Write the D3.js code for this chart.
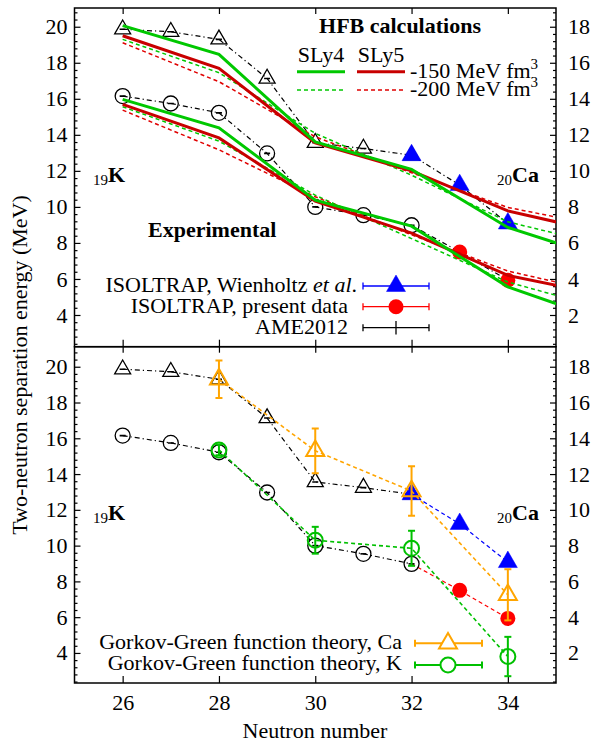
<!DOCTYPE html>
<html>
<head>
<meta charset="utf-8">
<script src="https://cdn.jsdelivr.net/npm/d3@7"></script>
<style>
  body { margin: 0; background: #fff; }
  svg text { font-family: "Liberation Serif", "Times New Roman", serif; font-size: 22px; fill: #000; }
</style>
</head>
<body>
<svg id="chart" width="592" height="747"></svg>
<script>
// ---- data (MeV) ----
const ameN = [26, 27, 28, 29, 30, 31, 32];
const caAME = [19.86, 19.72, 19.3, 17.13, 13.56, 13.24, 12.87];
const kAME = [16.15, 15.74, 15.22, 12.97, 10.0, 9.54, 8.98];

const wienN = [32, 33, 34];
const caWien = [12.87, 11.21, 9.08];

const presentN = [33, 34];
const kPresent = [7.5, 5.93];

const hfbN = [26, 28, 30, 32, 34, 36];
const caSly4m150 = [20.06, 18.47, 13.61, 12.08, 8.86, 7.14];
const caSly5m150 = [19.5, 17.69, 13.55, 12.0, 9.78, 8.56];
const caSly4m200 = [19.3, 17.45, 14.08, 11.76, 9.17, 7.87];
const caSly5m200 = [19.11, 16.95, 13.89, 11.89, 9.97, 8.91];
const kSly4m150 = [15.97, 14.39, 10.37, 8.93, 5.56, 3.7];
const kSly5m150 = [15.69, 13.83, 10.32, 8.54, 6.2, 5.1];
const kSly4m200 = [15.56, 13.65, 10.65, 8.24, 5.83, 4.35];
const kSly5m200 = [15.37, 13.17, 10.56, 8.45, 6.44, 5.22];

const ggN = [28, 30, 32, 34];
const ggCa = [19.3, 15.3, 13.05, 7.25];
const ggCaErr = [1.05, 1.25, 1.38, 1.43];
const ggK = [15.35, 10.3, 9.85, 3.8];
const ggKErr = [0.3, 0.75, 0.98, 1.1];

const xTicks = [26, 28, 30, 32, 34];
const yTicks = [4, 6, 8, 10, 12, 14, 16, 18, 20];
const yTicksRight = [2, 4, 6, 8, 10, 12, 14, 16, 18];

// ---- layout ----
const LEFT = 74.5;
const RIGHT = 556;
const TOP = 8;
const MID = 346.7;
const BOTTOM = 683;

const GREEN = "#00c800";
const DARK_RED = "#c80000";
const RED_DASH = "#e00000";
const ORANGE = "#ffa500";
const GG_GREEN = "#00c000";

const svg = d3.select("#chart");

const x = d3.scaleLinear().domain([25, 35]).range([LEFT, RIGHT]);
const yTop = d3.scaleLinear().domain([2.24, 21.04]).range([MID, TOP]);
const yBot = d3.scaleLinear().domain([2.32, 21.12]).range([BOTTOM, MID]);

const pts = (ns, vs) => ns.map((n, i) => [n, vs[i]]);

const defs = svg.append("defs");
[["clip-top", TOP, MID], ["clip-bot", MID, BOTTOM]].forEach(([id, y0, y1]) => {
  defs.append("clipPath").attr("id", id)
    .append("rect")
    .attr("x", LEFT).attr("y", y0)
    .attr("width", RIGHT - LEFT).attr("height", y1 - y0);
});

function drawAxes(y, y0, y1) {
  const minor = d3.range(0, 23, 0.4).map((v) => +v.toFixed(1))
    .filter((v) => v >= y.domain()[0] && v <= y.domain()[1] && Math.abs(v / 2 - Math.round(v / 2)) > 1e-6);
  const yRight = d3.scaleLinear().domain(y.domain().map((v) => v - 2)).range(y.range());

  const g = svg.append("g");

  g.append("g").attr("transform", `translate(${LEFT},0)`)
    .call(d3.axisLeft(y).tickValues(yTicks).tickSize(-6).tickPadding(7));
  g.append("g").attr("transform", `translate(${LEFT},0)`)
    .call(d3.axisLeft(y).tickValues(minor).tickSize(-3).tickFormat(""));

  g.append("g").attr("transform", `translate(${RIGHT},0)`)
    .call(d3.axisRight(yRight).tickValues(yTicksRight).tickSize(-6).tickPadding(12));
  g.append("g").attr("transform", `translate(${RIGHT},0)`)
    .call(d3.axisRight(y).tickValues(minor).tickSize(-3).tickFormat(""));

  g.append("g").attr("transform", `translate(0,${y0})`)
    .call(d3.axisTop(x).tickValues(xTicks).tickSize(-6).tickFormat(""));
  g.append("g").attr("transform", `translate(0,${y1})`)
    .call(d3.axisBottom(x).tickValues(xTicks).tickSize(-7).tickPadding(11)
      .tickFormat(y1 === BOTTOM ? d3.format("d") : ""));

  g.selectAll(".domain").remove();
  g.selectAll(".tick line").attr("stroke", "#000").attr("stroke-width", 1.2);
  g.selectAll(".tick text").attr("font-size", 22).attr("font-family", "Liberation Serif, serif");

  svg.append("rect")
    .attr("x", LEFT).attr("y", y0)
    .attr("width", RIGHT - LEFT).attr("height", y1 - y0)
    .attr("fill", "none").attr("stroke", "#000").attr("stroke-width", 1.5);
}

function line(layer, y, data, color, width, dash) {
  layer.append("path")
    .datum(data)
    .attr("d", d3.line().x((d) => x(d[0])).y((d) => y(d[1])))
    .attr("fill", "none")
    .attr("stroke", color)
    .attr("stroke-width", width)
    .attr("stroke-dasharray", dash || null);
}

const triSize = (side) => (Math.sqrt(3) / 4) * side * side;

function triangle(layer, cx, cy, side, fill, stroke, width) {
  layer.append("path")
    .attr("transform", `translate(${cx},${cy})`)
    .attr("d", d3.symbol().type(d3.symbolTriangle).size(triSize(side))())
    .attr("fill", fill)
    .attr("stroke", stroke)
    .attr("stroke-width", width);
}

function circle(layer, cx, cy, r, fill, stroke, width) {
  layer.append("circle")
    .attr("cx", cx).attr("cy", cy).attr("r", r)
    .attr("fill", fill)
    .attr("stroke", stroke)
    .attr("stroke-width", width);
}

function tinyBar(layer, cx, cy) {
  layer.append("line")
    .attr("x1", cx - 3).attr("x2", cx + 3)
    .attr("y1", cy).attr("y2", cy)
    .attr("stroke", "#000").attr("stroke-width", 1.6);
}

function errorBar(layer, cx, yTopPx, yBotPx, color, width) {
  layer.append("line")
    .attr("x1", cx).attr("x2", cx).attr("y1", yTopPx).attr("y2", yBotPx)
    .attr("stroke", color).attr("stroke-width", width);
  [yTopPx, yBotPx].forEach((yy) => {
    layer.append("line")
      .attr("x1", cx - 3.5).attr("x2", cx + 3.5).attr("y1", yy).attr("y2", yy)
      .attr("stroke", color).attr("stroke-width", width);
  });
}

function legendBar(x0, x1, yy, color, width) {
  svg.append("line")
    .attr("x1", x0).attr("x2", x1).attr("y1", yy).attr("y2", yy)
    .attr("stroke", color).attr("stroke-width", width);
  [x0, x1].forEach((xx) => {
    svg.append("line")
      .attr("x1", xx).attr("x2", xx).attr("y1", yy - 3.5).attr("y2", yy + 3.5)
      .attr("stroke", color).attr("stroke-width", width);
  });
}

function elementLabels(offset) {
  const k = svg.append("text").attr("x", 93).attr("y", 182 + offset);
  k.append("tspan").attr("font-size", 15).attr("dy", 3).text("19");
  k.append("tspan").attr("font-weight", "bold").attr("dy", -3).text("K");

  const ca = svg.append("text").attr("x", 497).attr("y", 182 + offset);
  ca.append("tspan").attr("font-size", 15).attr("dy", 3).text("20");
  ca.append("tspan").attr("font-weight", "bold").attr("dy", -3).text("Ca");
}

const DASHDOT = "5,3,1.2,3";

// ================= top panel =================
drawAxes(yTop, TOP, MID);
const topLayer = svg.append("g").attr("clip-path", "url(#clip-top)");

line(topLayer, yTop, pts(ameN, caAME).concat(pts(wienN.slice(1), caWien.slice(1))), "#000", 1.2, DASHDOT);
line(topLayer, yTop, pts(ameN, kAME).concat(pts(presentN, kPresent)), "#000", 1.2, DASHDOT);

ameN.forEach((n, i) => {
  triangle(topLayer, x(n), yTop(caAME[i]), 16, "none", "#000", 1.3);
  tinyBar(topLayer, x(n), yTop(caAME[i]));
  circle(topLayer, x(n), yTop(kAME[i]), 7.5, "none", "#000", 1.3);
  tinyBar(topLayer, x(n), yTop(kAME[i]));
});
wienN.forEach((n, i) => triangle(topLayer, x(n), yTop(caWien[i]), 19, "#0000ff", "#0000ff", 0.5));
presentN.forEach((n, i) => circle(topLayer, x(n), yTop(kPresent[i]), 7.5, "#ff0000", "none", 0));

line(topLayer, yTop, pts(hfbN, caSly4m200), GREEN, 1.5, "4,3");
line(topLayer, yTop, pts(hfbN, caSly5m200), RED_DASH, 1.5, "4,3");
line(topLayer, yTop, pts(hfbN, kSly4m200), GREEN, 1.5, "4,3");
line(topLayer, yTop, pts(hfbN, kSly5m200), RED_DASH, 1.5, "4,3");
line(topLayer, yTop, pts(hfbN, caSly5m150), DARK_RED, 3);
line(topLayer, yTop, pts(hfbN, caSly4m150), GREEN, 3);
line(topLayer, yTop, pts(hfbN, kSly5m150), DARK_RED, 3);
line(topLayer, yTop, pts(hfbN, kSly4m150), GREEN, 3);

// HFB legend
svg.append("text").attr("x", 400).attr("y", 33).attr("text-anchor", "middle")
  .attr("font-weight", "bold").text("HFB calculations");
svg.append("text").attr("x", 321).attr("y", 62).attr("text-anchor", "middle").text("SLy4");
svg.append("text").attr("x", 381).attr("y", 62).attr("text-anchor", "middle").text("SLy5");
svg.append("line").attr("x1", 297).attr("x2", 345).attr("y1", 71.7).attr("y2", 71.7)
  .attr("stroke", GREEN).attr("stroke-width", 3);
svg.append("line").attr("x1", 357).attr("x2", 405).attr("y1", 71.7).attr("y2", 71.7)
  .attr("stroke", DARK_RED).attr("stroke-width", 3);
svg.append("line").attr("x1", 297).attr("x2", 345).attr("y1", 90).attr("y2", 90)
  .attr("stroke", GREEN).attr("stroke-width", 1.5).attr("stroke-dasharray", "4,3");
svg.append("line").attr("x1", 357).attr("x2", 405).attr("y1", 90).attr("y2", 90)
  .attr("stroke", RED_DASH).attr("stroke-width", 1.5).attr("stroke-dasharray", "4,3");
[["-150 MeV fm", 78], ["-200 MeV fm", 96]].forEach(([label, yy]) => {
  const t = svg.append("text").attr("x", 410).attr("y", yy);
  t.append("tspan").text(label);
  t.append("tspan").attr("font-size", 15).attr("dy", -9).text("3");
});

svg.append("text").attr("x", 148).attr("y", 237).attr("font-weight", "bold").text("Experimental");
elementLabels(0);

// experimental legend
const wl = svg.append("text").attr("x", 357).attr("y", 292).attr("text-anchor", "end");
wl.append("tspan").text("ISOLTRAP, Wienholtz ");
wl.append("tspan").attr("font-style", "italic").text("et al");
wl.append("tspan").text(".");
legendBar(363, 429, 286, "#0000ff", 1.3);
triangle(svg, 396, 286, 19, "#0000ff", "#0000ff", 0.5);

svg.append("text").attr("x", 348).attr("y", 313.3).attr("text-anchor", "end").text("ISOLTRAP, present data");
legendBar(363, 429, 306.7, "#ff0000", 1.3);
circle(svg, 396, 306.7, 7.5, "#ff0000", "none", 0);

svg.append("text").attr("x", 348).attr("y", 334).attr("text-anchor", "end").text("AME2012");
legendBar(363, 429, 327.7, "#000", 1.3);
svg.append("line").attr("x1", 396).attr("x2", 396).attr("y1", 321).attr("y2", 334.5)
  .attr("stroke", "#000").attr("stroke-width", 1.3);

// ================= bottom panel =================
drawAxes(yBot, MID, BOTTOM);
const botLayer = svg.append("g").attr("clip-path", "url(#clip-bot)");

line(botLayer, yBot, pts(ameN, caAME), "#000", 1.2, DASHDOT);
line(botLayer, yBot, pts(ameN, kAME), "#000", 1.2, DASHDOT);
line(botLayer, yBot, pts(wienN, caWien), "#0000ff", 1.2, "4,3");
line(botLayer, yBot, pts(ameN.slice(-1), kAME.slice(-1)).concat(pts(presentN, kPresent)), "#ff0000", 1.2, "4,3");

ameN.forEach((n, i) => {
  triangle(botLayer, x(n), yBot(caAME[i]), 16, "none", "#000", 1.3);
  tinyBar(botLayer, x(n), yBot(caAME[i]));
  circle(botLayer, x(n), yBot(kAME[i]), 7.5, "none", "#000", 1.3);
  tinyBar(botLayer, x(n), yBot(kAME[i]));
});
wienN.forEach((n, i) => triangle(botLayer, x(n), yBot(caWien[i]), 19, "#0000ff", "#0000ff", 0.5));
presentN.forEach((n, i) => circle(botLayer, x(n), yBot(kPresent[i]), 7.5, "#ff0000", "none", 0));

line(botLayer, yBot, pts(ggN, ggCa), ORANGE, 1.6, "4,3");
line(botLayer, yBot, pts(ggN, ggK), GG_GREEN, 1.6, "4,3");
ggN.forEach((n, i) => {
  errorBar(botLayer, x(n), yBot(ggCa[i] + ggCaErr[i]), yBot(ggCa[i] - ggCaErr[i]), ORANGE, 2);
  triangle(botLayer, x(n), yBot(ggCa[i]), 18, "none", ORANGE, 2);
  errorBar(botLayer, x(n), yBot(ggK[i] + ggKErr[i]), yBot(ggK[i] - ggKErr[i]), GG_GREEN, 2);
  circle(botLayer, x(n), yBot(ggK[i]), 7.5, "none", GG_GREEN, 2);
});

elementLabels(338);

svg.append("text").attr("x", 402).attr("y", 649.3).attr("text-anchor", "end")
  .text("Gorkov-Green function theory, Ca");
legendBar(415, 482, 643.3, ORANGE, 2);
triangle(svg, 448, 643.3, 18, "#fff", ORANGE, 2);

svg.append("text").attr("x", 402).attr("y", 670).attr("text-anchor", "end")
  .text("Gorkov-Green function theory, K");
legendBar(415, 482, 665, GG_GREEN, 2);
circle(svg, 448, 665, 7.5, "#fff", GG_GREEN, 2);

// axis titles
svg.append("text").attr("transform", "translate(27,365) rotate(-90)")
  .attr("text-anchor", "middle").text("Two-neutron separation energy (MeV)");
svg.append("text").attr("x", 315).attr("y", 738).attr("text-anchor", "middle").text("Neutron number");
</script>
</body>
</html>
